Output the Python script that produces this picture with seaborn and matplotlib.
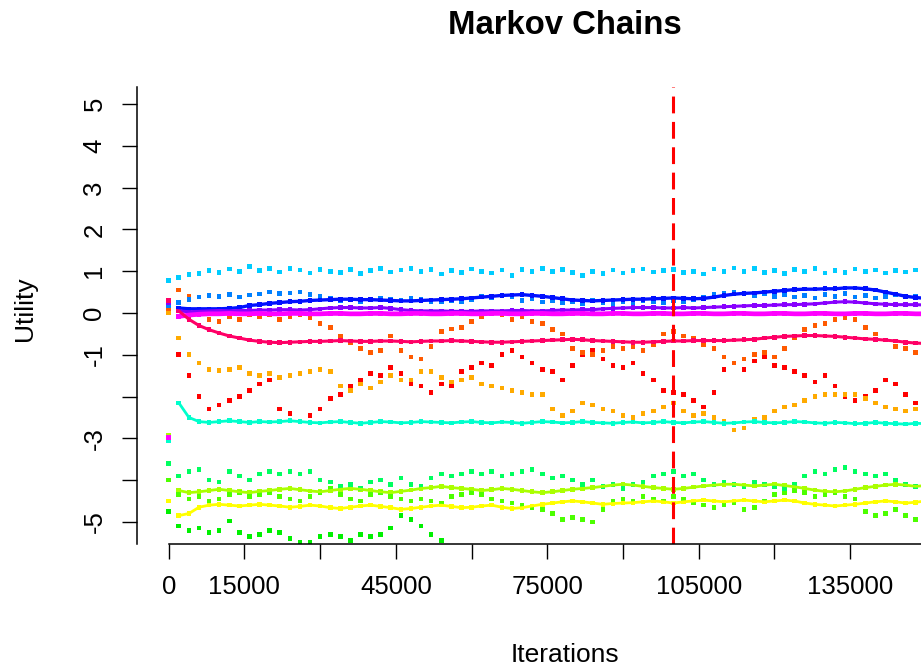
import numpy as np
import pandas as pd
import seaborn as sns
import matplotlib.pyplot as plt

# iteration grid of the traces (one value read every 2000 iterations)
iterations = list(range(0, 150001, 2000))
burn_in = 100000

red = [0.15, -1.0, -1.5, -2.0, -2.3, -2.2, -2.1, -2.0, -1.85, -1.7,
       -1.6, -2.3, -2.4, -2.6, -2.45, -2.3, -2.05, -1.95, -1.75, -1.6,
       -1.45, -1.5, -1.3, -1.45, -1.7, -1.75, -1.9, -1.7, -1.75, -1.4,
       -1.3, -1.2, -1.25, -1.0, -0.9, -1.05, -1.2, -1.35, -1.4, -1.6,
       -1.25, -1.0, -0.9, -1.1, -1.25, -1.3, -1.2, -1.45, -1.6, -1.85,
       -1.9, -1.95, -2.1, -2.25, -1.9, -1.35, -1.2, -1.35, -1.15, -1.05,
       -1.25, -1.3, -1.4, -1.5, -1.65, -1.5, -1.75, -2.0, -2.1, -2.0,
       -1.85, -1.6, -1.7, -1.95, -2.15, -2.25]
orange_red = [0.1, 0.55, 0.4, 0.05, -0.15, -0.2, -0.1, -0.15, -0.05, -0.1,
              -0.05, -0.15, -0.1, -0.05, -0.12, -0.25, -0.35, -0.55, -0.7, -0.85,
              -0.95, -0.9, -0.55, -0.9, -1.05, -1.1, -0.8, -0.45, -0.38, -0.35,
              -0.2, -0.1, 0.0, -0.05, -0.15, -0.1, -0.2, -0.25, -0.4, -0.5,
              -0.85, -0.95, -1.0, -0.9, -0.8, -0.85, -0.8, -0.9, -0.75, -0.5,
              -0.45, -0.55, -0.6, -0.75, -0.85, -1.05, -1.2, -1.1, -1.0, -0.95,
              -1.05, -0.85, -0.6, -0.4, -0.3, -0.25, -0.15, -0.12, -0.15, -0.35,
              -0.5, -0.65, -0.8, -0.85, -0.95, -1.05]
orange = [0.0, -0.6, -1.0, -1.2, -1.35, -1.38, -1.35, -1.3, -1.45, -1.5,
          -1.45, -1.55, -1.5, -1.45, -1.4, -1.35, -1.4, -1.75, -1.85, -1.7,
          -1.8, -1.65, -1.5, -1.6, -1.6, -1.4, -1.4, -1.55, -1.65, -1.6,
          -1.55, -1.7, -1.75, -1.8, -1.85, -1.9, -1.95, -1.95, -2.3, -2.45,
          -2.35, -2.15, -2.2, -2.3, -2.35, -2.45, -2.5, -2.4, -2.35, -2.25,
          -2.15, -2.35, -2.45, -2.4, -2.5, -2.6, -2.8, -2.75, -2.55, -2.5,
          -2.35, -2.25, -2.2, -2.1, -2.0, -1.95, -1.95, -1.95, -1.95, -2.05,
          -2.15, -2.25, -2.3, -2.35, -2.3, -2.4]
yellow = [-4.5, -4.85, -4.8, -4.65, -4.6, -4.58, -4.6, -4.62, -4.6, -4.58,
          -4.6, -4.62, -4.65, -4.63, -4.6, -4.62, -4.66, -4.68, -4.65, -4.62,
          -4.6, -4.63, -4.66, -4.7, -4.68, -4.65, -4.62, -4.6, -4.63, -4.66,
          -4.65, -4.62, -4.6, -4.65, -4.68, -4.66, -4.62, -4.58, -4.55, -4.52,
          -4.5, -4.52, -4.55, -4.58, -4.56, -4.55, -4.54, -4.52, -4.5, -4.52,
          -4.55, -4.52, -4.5, -4.48, -4.5, -4.52, -4.5, -4.48, -4.5, -4.52,
          -4.5, -4.48, -4.5, -4.55, -4.58, -4.6, -4.62, -4.6, -4.58, -4.55,
          -4.52, -4.5, -4.52, -4.55, -4.53, -4.5]
yellow_green = [-2.92, -4.25, -4.3, -4.28, -4.25, -4.22, -4.25, -4.28, -4.3, -4.27,
                -4.25, -4.22, -4.2, -4.23, -4.26, -4.28, -4.25, -4.22, -4.2, -4.22,
                -4.25, -4.28, -4.3, -4.27, -4.24, -4.2, -4.18, -4.15, -4.18, -4.2,
                -4.22, -4.25, -4.23, -4.2, -4.22, -4.25, -4.28, -4.3, -4.28, -4.25,
                -4.22, -4.2, -4.18, -4.15, -4.12, -4.1, -4.12, -4.15, -4.18, -4.2,
                -4.22, -4.2, -4.17, -4.14, -4.12, -4.1, -4.1, -4.12, -4.14, -4.12,
                -4.1, -4.13, -4.16, -4.2, -4.24, -4.27, -4.28, -4.26, -4.22, -4.18,
                -4.15, -4.12, -4.1, -4.12, -4.15, -4.13]
green = [-4.0, -4.35, -4.45, -4.4, -4.5, -4.45, -4.35, -4.3, -4.4, -4.35,
         -4.3, -4.4, -4.45, -4.5, -4.4, -4.3, -4.2, -4.35, -4.45, -4.5,
         -4.35, -4.3, -4.4, -4.45, -4.5, -4.45, -4.5, -4.55, -4.4, -4.35,
         -4.3, -4.35, -4.45, -4.5, -4.55, -4.6, -4.65, -4.7, -4.8, -4.95,
         -4.9, -4.95, -5.0, -4.7, -4.5, -4.45, -4.5, -4.4, -4.45, -4.5,
         -4.4, -4.45, -4.55, -4.6, -4.65, -4.6, -4.55, -4.7, -4.65, -4.5,
         -4.35, -4.3, -4.25, -4.3, -4.4, -4.35, -4.3, -4.4, -4.45, -4.75,
         -4.85, -4.8, -4.7, -4.85, -4.95, -5.0]
# this chain leaves the plotted range after ~55000 iterations
green_low = [-4.75, -5.1, -5.2, -5.15, -5.25, -5.2, -4.98, -5.25, -5.35, -5.3,
             -5.2, -5.25, -5.4, -5.5, -5.48, -5.35, -5.3, -5.35, -5.45, -5.3,
             -5.35, -5.3, -5.15, -4.85, -4.95, -5.1, -5.3, -5.45] + [np.nan] * 48
spring_green = [-3.6, -3.9, -3.8, -3.75, -4.0, -4.05, -3.8, -3.9, -4.0, -3.85,
                -3.8, -3.85, -3.8, -3.85, -3.8, -4.0, -4.05, -4.15, -4.1, -4.2,
                -4.05, -4.0, -4.1, -3.95, -4.1, -4.15, -3.95, -3.85, -3.9, -3.85,
                -3.8, -3.85, -3.8, -3.9, -3.85, -3.8, -3.75, -3.85, -3.95, -3.9,
                -4.0, -4.1, -4.0, -4.15, -4.1, -4.2, -4.1, -4.05, -3.9, -3.85,
                -3.8, -3.9, -3.85, -4.0, -4.1, -4.05, -4.1, -4.15, -4.05, -4.1,
                -4.15, -4.2, -4.1, -3.9, -3.8, -3.85, -3.75, -3.7, -3.8, -3.85,
                -3.9, -3.85, -4.0, -4.1, -4.15, -4.1]
turquoise = [-3.05, -2.15, -2.5, -2.6, -2.62, -2.6, -2.58, -2.6, -2.62, -2.6,
             -2.61, -2.6, -2.58, -2.6, -2.62, -2.63, -2.61, -2.6, -2.62, -2.64,
             -2.62, -2.6, -2.61, -2.63, -2.62, -2.6, -2.61, -2.62, -2.63, -2.61,
             -2.6, -2.62, -2.63, -2.61, -2.62, -2.64, -2.62, -2.6, -2.61, -2.63,
             -2.62, -2.6, -2.62, -2.63, -2.64, -2.62, -2.61, -2.63, -2.62, -2.6,
             -2.62, -2.63, -2.61, -2.6, -2.62, -2.64, -2.63, -2.61, -2.6, -2.62,
             -2.63, -2.62, -2.6, -2.61, -2.63, -2.64, -2.62, -2.63, -2.65, -2.64,
             -2.62, -2.64, -2.65, -2.66, -2.64, -2.65]
cyan = [0.78, 0.85, 0.92, 0.95, 1.02, 0.97, 1.05, 1.0, 1.12, 1.02,
        1.06, 0.98, 1.07, 1.03, 0.96, 1.04, 1.0, 0.97, 1.04, 0.94,
        1.01, 1.06, 0.98, 1.03, 1.07, 0.99, 1.04, 0.93, 1.02, 0.97,
        1.05, 1.0, 0.96, 1.03, 0.9, 1.04, 1.0, 1.07, 0.99, 1.04,
        0.97, 0.9, 1.0, 0.94, 1.03, 0.96, 1.01, 1.05, 0.98, 1.02,
        1.04, 0.97, 1.0, 0.93, 1.05, 0.99, 1.08, 1.0, 1.06, 0.97,
        1.02, 0.95, 1.04, 0.99, 1.06, 0.96, 1.02, 0.97, 1.05, 0.99,
        1.03, 0.96, 1.01, 0.98, 1.03, 1.0]
azure = [0.18, 0.25, 0.32, 0.38, 0.42, 0.4, 0.44, 0.38, 0.43, 0.45,
         0.5, 0.46, 0.48, 0.5, 0.44, 0.4, 0.36, 0.3, 0.33, 0.28,
         0.32, 0.36, 0.33, 0.3, 0.34, 0.32, 0.28, 0.26, 0.3, 0.28,
         0.33, 0.4, 0.36, 0.42, 0.38, 0.3, 0.34, 0.26, 0.3, 0.24,
         0.28, 0.22, 0.3, 0.25, 0.2, 0.27, 0.24, 0.3, 0.28, 0.25,
         0.3, 0.26, 0.33, 0.38, 0.44, 0.47, 0.5, 0.46, 0.42, 0.47,
         0.4, 0.44, 0.38, 0.42, 0.36, 0.44, 0.4, 0.46, 0.38, 0.42,
         0.36, 0.4, 0.43, 0.38, 0.4, 0.36]
blue = [0.25, 0.12, 0.1, 0.1, 0.1, 0.1, 0.11, 0.13, 0.18, 0.2,
        0.23, 0.25, 0.27, 0.28, 0.3, 0.31, 0.32, 0.33, 0.33, 0.32,
        0.32, 0.31, 0.3, 0.29, 0.29, 0.3, 0.31, 0.32, 0.33, 0.34,
        0.36, 0.38, 0.4, 0.42, 0.43, 0.44, 0.42, 0.4, 0.37, 0.34,
        0.31, 0.3, 0.29, 0.3, 0.31, 0.32, 0.33, 0.33, 0.34, 0.35,
        0.36, 0.35, 0.34, 0.35, 0.38, 0.42, 0.45, 0.47, 0.48, 0.5,
        0.52, 0.54, 0.56, 0.57, 0.57, 0.58, 0.58, 0.6, 0.6, 0.58,
        0.55, 0.5, 0.45, 0.4, 0.37, 0.35]
purple = [0.25, 0.05, 0.03, 0.04, 0.05, 0.06, 0.05, 0.06, 0.06, 0.07,
          0.07, 0.08, 0.08, 0.07, 0.08, 0.1, 0.12, 0.13, 0.13, 0.12,
          0.12, 0.13, 0.11, 0.08, 0.06, 0.05, 0.05, 0.05, 0.04, 0.04,
          0.04, 0.05, 0.05, 0.05, 0.06, 0.06, 0.05, 0.05, 0.06, 0.07,
          0.07, 0.08, 0.08, 0.1, 0.11, 0.12, 0.13, 0.13, 0.13, 0.12,
          0.12, 0.13, 0.12, 0.13, 0.14, 0.15, 0.16, 0.17, 0.18, 0.18,
          0.19, 0.2, 0.2, 0.21, 0.22, 0.24, 0.26, 0.27, 0.26, 0.24,
          0.22, 0.21, 0.2, 0.2, 0.2, 0.19]
magenta = [-2.98, -0.08, -0.05, -0.03, -0.02, -0.02, -0.01, -0.02, -0.02, -0.01,
           -0.02, -0.02, -0.01, -0.01, -0.02, -0.02, -0.01, -0.01, -0.02, -0.02,
           -0.01, -0.01, -0.02, -0.02, -0.01, -0.01, -0.02, -0.02, -0.01, -0.01,
           -0.02, -0.02, -0.01, -0.01, -0.02, -0.02, -0.01, -0.01, -0.02, -0.02,
           -0.01, -0.01, -0.02, -0.02, -0.01, -0.01, -0.02, -0.02, -0.01, -0.01,
           -0.02, -0.02, -0.01, -0.01, -0.02, -0.02, -0.01, -0.01, -0.02, -0.02,
           -0.01, -0.01, -0.02, -0.02, -0.01, -0.01, -0.02, -0.02, -0.01, -0.01,
           -0.02, -0.02, -0.01, -0.01, -0.02, -0.02]
rose = [0.3, 0.05, -0.15, -0.3, -0.4, -0.48, -0.55, -0.6, -0.65, -0.68,
        -0.7, -0.71, -0.7, -0.69, -0.68, -0.68, -0.67, -0.66, -0.67, -0.68,
        -0.68, -0.67, -0.67, -0.68, -0.69, -0.68, -0.67, -0.67, -0.66, -0.67,
        -0.68, -0.69, -0.7, -0.7, -0.69, -0.68, -0.67, -0.66, -0.65, -0.64,
        -0.63, -0.64, -0.66, -0.67, -0.68, -0.69, -0.7, -0.7, -0.69, -0.68,
        -0.67, -0.67, -0.66, -0.66, -0.66, -0.66, -0.65, -0.64, -0.63, -0.6,
        -0.58, -0.56, -0.55, -0.54, -0.54, -0.55, -0.56, -0.58, -0.6, -0.62,
        -0.63, -0.65, -0.67, -0.7, -0.72, -0.73]

chains = {
    'red': (red, '#FF0000'),
    'orange_red': (orange_red, '#FF5A00'),
    'orange': (orange, '#FFAA00'),
    'yellow': (yellow, '#FFFF00'),
    'yellow_green': (yellow_green, '#AAFF00'),
    'green': (green, '#4CFF00'),
    'green_low': (green_low, '#00F000'),
    'spring_green': (spring_green, '#00FF60'),
    'turquoise': (turquoise, '#00FFCC'),
    'cyan': (cyan, '#00CCFF'),
    'azure': (azure, '#0080FF'),
    'blue': (blue, '#0010FF'),
    'purple': (purple, '#8800FF'),
    'magenta': (magenta, '#FF00FF'),
    'rose': (rose, '#FF0066'),
}
# chains that look like a solid band in the trace plot
smooth_chains = {'turquoise': 2.0, 'yellow': 2.0, 'yellow_green': 2.0,
                 'blue': 2.4, 'purple': 2.2, 'magenta': 3.4, 'rose': 2.2}

frames = []
for name, (vals, col) in chains.items():
    assert len(vals) == len(iterations), name
    frames.append(pd.DataFrame({'iteration': iterations, 'utility': vals, 'chain': name}))
df = pd.concat(frames, ignore_index=True)
palette = {name: col for name, (vals, col) in chains.items()}

sns.set_style('ticks')
plt.rcParams['font.family'] = ['Liberation Sans', 'DejaVu Sans']
plt.rcParams['text.color'] = 'black'
plt.rcParams['axes.labelcolor'] = 'black'

fig = plt.figure(figsize=(9.21, 6.72), dpi=100)
ax = fig.add_axes([137 / 921, 128 / 672, 856 / 921, 457 / 672])

for name, lw in smooth_chains.items():
    sub = df[(df['chain'] == name) & (df['iteration'] > 0)]
    sns.lineplot(data=sub, x='iteration', y='utility', color=palette[name],
                 lw=lw, estimator=None, ax=ax)

sns.scatterplot(data=df, x='iteration', y='utility', hue='chain', palette=palette,
                marker='s', s=11, linewidth=0, legend=False, ax=ax)

ax.axvline(burn_in, color='#FF0000', lw=2.2, ls=(0, (5.5, 2.8)))

ax.set_xlim(-6280, 163300)
ax.set_ylim(-5.53, 5.41)

xt = list(range(0, 150001, 15000))
xlabels = ['0', '15000', '', '45000', '', '75000', '', '105000', '', '135000', '']
ax.set_xticks(xt)
ax.set_xticklabels(xlabels)
yt = list(range(-5, 6))
ylabels = ['-5', '', '-3', '', '-1', '0', '1', '2', '3', '4', '5']
ax.set_yticks(yt)
ax.set_yticklabels(ylabels)

ax.tick_params(axis='both', direction='out', length=11, width=1.0, color='black',
               labelsize=18.5, pad=11, labelcolor='black')
ax.tick_params(axis='y', labelrotation=90)
for t in ax.get_yticklabels():
    t.set_va('center')

sns.despine(ax=ax)
ax.spines['bottom'].set_bounds(0, 163300)
for s in ['left', 'bottom']:
    ax.spines[s].set_linewidth(1.1)
    ax.spines[s].set_color('black')

ax.set_xlabel('Iterations', fontsize=19)
ax.set_ylabel('Utility', fontsize=19)
ax.xaxis.set_label_coords(0.5, -0.243)
ax.xaxis.label.set_va('center')
ax.yaxis.set_label_coords(-0.131, 0.515)
ax.yaxis.label.set_va('center')
ax.set_title('Markov Chains', fontsize=23.7, fontweight='bold', pad=38, color='black')

fig.savefig('out.png', dpi=100)
